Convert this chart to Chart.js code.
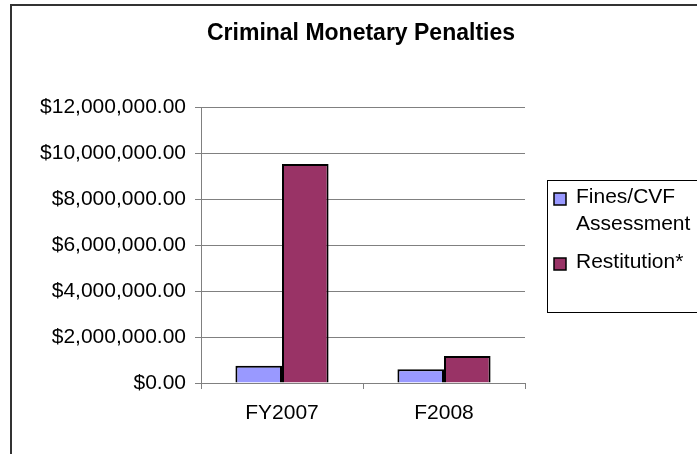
<!DOCTYPE html>
<html>
<head>
<meta charset="utf-8">
<script src="https://cdn.jsdelivr.net/npm/chart.js@4"></script>
<style>
  html, body { margin: 0; padding: 0; background: #fff; }
  #wrap { width: 697px; height: 454px; }
</style>
</head>
<body>
<div id="wrap"><canvas id="grafico" width="697" height="454"></canvas></div>
<script>
// dados do gráfico
const categorias = ["FY2007", "F2008"];
const multas = [750000, 600000];
const restituicao = [9520000, 1170000];
const nomesSeries = [["Fines/CVF", "Assessment"], ["Restitution*"]];
const tituloGrafico = "Criminal Monetary Penalties";

const corMultas = "#9999FF";
const corRestituicao = "#993366";
const fonte = "'Liberation Sans', Arial, sans-serif";

const formatoDolar = (v) =>
  "$" + Number(v).toLocaleString("en-US", { minimumFractionDigits: 2, maximumFractionDigits: 2 });

// moldura externa, título e legenda desenhados à mão (estilo Excel)
const molduraELegenda = {
  id: "molduraELegenda",
  beforeDraw(chart) {
    const ctx = chart.ctx;
    ctx.save();
    ctx.fillStyle = "#fff";
    ctx.fillRect(0, 0, chart.width, chart.height);
    ctx.strokeStyle = "#333";
    ctx.lineWidth = 2;
    ctx.strokeRect(11, 5, chart.width + 20, chart.height + 20);
    ctx.restore();
  },
  afterDraw(chart) {
    const ctx = chart.ctx;
    ctx.save();
    // título
    ctx.fillStyle = "#000";
    ctx.textAlign = "center";
    ctx.textBaseline = "middle";
    ctx.font = "bold 23px " + fonte;
    ctx.fillText(tituloGrafico, 361, 34);
    // caixa da legenda
    ctx.textAlign = "left";
    ctx.strokeStyle = "#000";
    ctx.lineWidth = 1;
    ctx.strokeRect(547.5, 180.5, 200, 132);
    ctx.font = "21px " + fonte;
    const linhas = [197, 262];
    const quadrados = [199, 264];
    chart.data.datasets.forEach((ds, i) => {
      const y = quadrados[i];
      ctx.fillStyle = ds.backgroundColor;
      ctx.fillRect(554, y - 6, 12, 12);
      ctx.lineWidth = 1.5;
      ctx.strokeStyle = "#000";
      ctx.strokeRect(554, y - 6, 12, 12);
      ctx.fillStyle = "#000";
      nomesSeries[i].forEach((txt, j) => ctx.fillText(txt, 576, linhas[i] + j * 27));
    });
    ctx.restore();
  },
};

new Chart(document.getElementById("grafico").getContext("2d"), {
  type: "bar",
  data: {
    labels: categorias,
    datasets: [
      { label: nomesSeries[0].join(" "), data: multas, backgroundColor: corMultas, borderColor: "#000", borderWidth: 2 },
      { label: nomesSeries[1].join(" "), data: restituicao, backgroundColor: corRestituicao, borderColor: "#000", borderWidth: 2 },
    ],
  },
  options: {
    responsive: false,
    animation: false,
    layout: { padding: { left: 0, right: 172, top: 107, bottom: 0 } },
    datasets: { bar: { barPercentage: 1, categoryPercentage: 0.575 } },
    plugins: {
      legend: { display: false },
      tooltip: { enabled: false },
      title: { display: false },
    },
    scales: {
      x: {
        afterFit: (s) => { s.height = 71; },
        grid: { offset: true, drawOnChartArea: false, color: "#808080", tickLength: 6 },
        border: { color: "#808080" },
        ticks: { color: "#000", padding: 12, font: { family: fonte, size: 21 } },
      },
      y: {
        min: 0,
        max: 12000000,
        afterFit: (s) => { s.width = 201; },
        grid: { color: "#808080", tickLength: 6 },
        border: { color: "#808080" },
        ticks: {
          stepSize: 2000000,
          color: "#000",
          padding: 9,
          font: { family: fonte, size: 21 },
          callback: (v) => formatoDolar(v),
        },
      },
    },
  },
  plugins: [molduraELegenda],
});
</script>
</body>
</html>
